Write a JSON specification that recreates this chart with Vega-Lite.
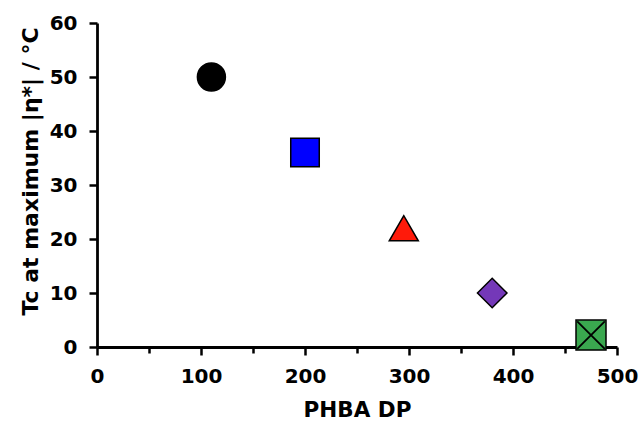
{
  "$schema": "https://vega.github.io/schema/vega-lite/v6.json",
  "autosize": {"type": "none"},
  "width": 520,
  "height": 324,
  "padding": {"left": 97, "top": 23, "right": 24, "bottom": 74},
  "background": "white",
  "config": {
    "view": {"stroke": null},
    "font": "DejaVu Sans",
    "axis": {
      "domainColor": "black",
      "domainWidth": 2.8,
      "tickColor": "black",
      "tickWidth": 2.5,
      "tickSize": 7,
      "grid": false,
      "labelFont": "DejaVu Sans",
      "labelFontSize": 20,
      "labelFontWeight": "bold",
      "labelColor": "black",
      "titleFont": "DejaVu Sans",
      "titleFontSize": 21.5,
      "titleFontWeight": "bold",
      "titleColor": "black"
    }
  },
  "data": {
    "values": [
      {"dp": 110, "tc": 50, "sample": "A"},
      {"dp": 200, "tc": 36, "sample": "B"},
      {"dp": 295, "tc": 22, "sample": "C"},
      {"dp": 380, "tc": 10, "sample": "D"},
      {"dp": 475, "tc": 2.2, "sample": "E"}
    ]
  },
  "layer": [
    {
      "mark": {"type": "point", "filled": true, "stroke": "black", "strokeWidth": 1.5, "opacity": 1},
      "encoding": {
        "x": {
          "field": "dp", "type": "quantitative",
          "scale": {"domain": [0, 500], "nice": false, "zero": true},
          "axis": {
            "values": [0, 50, 100, 150, 200, 250, 300, 350, 400, 450, 500],
            "labelExpr": "datum.value % 100 === 0 ? datum.label : ''",
            "tickSize": {"condition": {"test": "datum.value % 100 === 0", "value": 8}, "value": 6},
            "title": "PHBA DP", "labelPadding": 11, "titlePadding": 13, "labelFlush": false
          }
        },
        "y": {
          "field": "tc", "type": "quantitative",
          "scale": {"domain": [0, 60], "nice": false},
          "axis": {
            "values": [0, 5, 10, 15, 20, 25, 30, 35, 40, 45, 50, 55, 60],
            "labelExpr": "datum.value % 10 === 0 ? datum.label : ''",
            "tickSize": {"condition": {"test": "datum.value % 10 === 0", "value": 8}, "value": 6},
            "title": "Tc at maximum |η*| / °C", "titleFontSize": 22, "titleY": 148,
            "labelPadding": 12, "titlePadding": 7, "labelFlush": false
          }
        },
        "shape": {
          "field": "sample", "type": "nominal",
          "scale": {"domain": ["A", "B", "C", "D", "E"], "range": ["circle", "square", "triangle-up", "diamond", "square"]},
          "legend": null
        },
        "fill": {
          "field": "sample", "type": "nominal",
          "scale": {"domain": ["A", "B", "C", "D", "E"], "range": ["#000000", "#0000ff", "#ff1a0a", "#7438b8", "#3aa84f"]},
          "legend": null
        },
        "size": {
          "field": "sample", "type": "nominal",
          "scale": {"domain": ["A", "B", "C", "D", "E"], "range": [784, 900, 900, 900, 760]},
          "legend": null
        }
      }
    },
    {
      "transform": [{"filter": "datum.sample == 'E'"}],
      "mark": {"type": "point", "filled": false, "stroke": "black", "strokeWidth": 1.8, "shape": "M-1,-1L1,1M-1,1L1,-1", "size": 760, "opacity": 1},
      "encoding": {
        "x": {"field": "dp", "type": "quantitative"},
        "y": {"field": "tc", "type": "quantitative"}
      }
    }
  ]
}
